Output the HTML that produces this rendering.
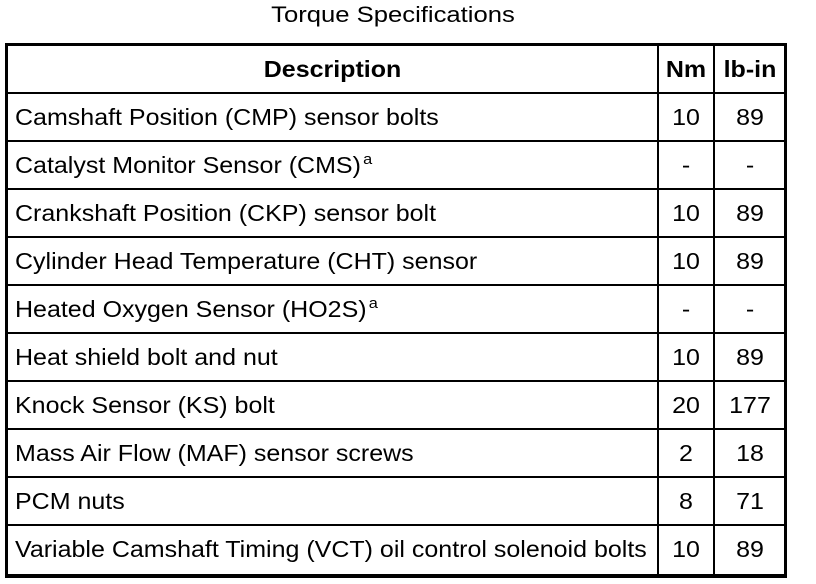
<!DOCTYPE html>
<html><head><style>
body{margin:0;width:816px;height:584px;background:#fff;font-family:"Liberation Sans",Arial,sans-serif;color:#000;position:relative;overflow:hidden}
.t{position:absolute;left:0;width:786px;top:2px;text-align:center;font-size:22px;transform:scaleX(1.165);transform-origin:393px 0}
.box{position:absolute;left:5px;top:43px;width:776px;height:528px;border:3px solid #000;border-bottom-width:4px}
.v{position:absolute;top:43px;height:534px;width:2px;background:#000}
.h{position:absolute;left:5px;width:782px;height:2px;background:#000}
.c{position:absolute;font-size:23px;line-height:48px;white-space:nowrap;transform:scaleX(1.087);transform-origin:0 0}
.n{text-align:center;transform-origin:50% 0}
sup{font-size:15px;vertical-align:baseline;position:relative;top:-9px;line-height:0;margin-left:2px}
</style></head><body>
<div class="t">Torque Specifications</div>
<div class="box"></div>
<div class="v" style="left:657px"></div>
<div class="v" style="left:713px"></div>
<div class="h" style="top:92px"></div>
<div class="h" style="top:140px"></div>
<div class="h" style="top:188px"></div>
<div class="h" style="top:236px"></div>
<div class="h" style="top:284px"></div>
<div class="h" style="top:332px"></div>
<div class="h" style="top:380px"></div>
<div class="h" style="top:428px"></div>
<div class="h" style="top:476px"></div>
<div class="h" style="top:524px"></div>

<div class="c n" style="left:8px;width:649px;top:45px;font-weight:bold">Description</div>
<div class="c n" style="left:659px;width:54px;top:45px;font-weight:bold">Nm</div>
<div class="c n" style="left:715px;width:70px;top:45px;font-weight:bold">lb-in</div>

<div class="c" style="left:15px;top:93px">Camshaft Position (CMP) sensor bolts</div>
<div class="c" style="left:15px;top:141px">Catalyst Monitor Sensor (CMS)<sup>a</sup></div>
<div class="c" style="left:15px;top:189px">Crankshaft Position (CKP) sensor bolt</div>
<div class="c" style="left:15px;top:237px">Cylinder Head Temperature (CHT) sensor</div>
<div class="c" style="left:15px;top:285px">Heated Oxygen Sensor (HO2S)<sup>a</sup></div>
<div class="c" style="left:15px;top:333px">Heat shield bolt and nut</div>
<div class="c" style="left:15px;top:381px">Knock Sensor (KS) bolt</div>
<div class="c" style="left:15px;top:429px">Mass Air Flow (MAF) sensor screws</div>
<div class="c" style="left:15px;top:477px">PCM nuts</div>
<div class="c" style="left:15px;top:525px">Variable Camshaft Timing (VCT) oil control solenoid bolts</div>

<div class="c n" style="left:659px;width:54px;top:93px">10</div>
<div class="c n" style="left:659px;width:54px;top:141px">-</div>
<div class="c n" style="left:659px;width:54px;top:189px">10</div>
<div class="c n" style="left:659px;width:54px;top:237px">10</div>
<div class="c n" style="left:659px;width:54px;top:285px">-</div>
<div class="c n" style="left:659px;width:54px;top:333px">10</div>
<div class="c n" style="left:659px;width:54px;top:381px">20</div>
<div class="c n" style="left:659px;width:54px;top:429px">2</div>
<div class="c n" style="left:659px;width:54px;top:477px">8</div>
<div class="c n" style="left:659px;width:54px;top:525px">10</div>

<div class="c n" style="left:715px;width:70px;top:93px">89</div>
<div class="c n" style="left:715px;width:70px;top:141px">-</div>
<div class="c n" style="left:715px;width:70px;top:189px">89</div>
<div class="c n" style="left:715px;width:70px;top:237px">89</div>
<div class="c n" style="left:715px;width:70px;top:285px">-</div>
<div class="c n" style="left:715px;width:70px;top:333px">89</div>
<div class="c n" style="left:715px;width:70px;top:381px">177</div>
<div class="c n" style="left:715px;width:70px;top:429px">18</div>
<div class="c n" style="left:715px;width:70px;top:477px">71</div>
<div class="c n" style="left:715px;width:70px;top:525px">89</div>
</body></html>
